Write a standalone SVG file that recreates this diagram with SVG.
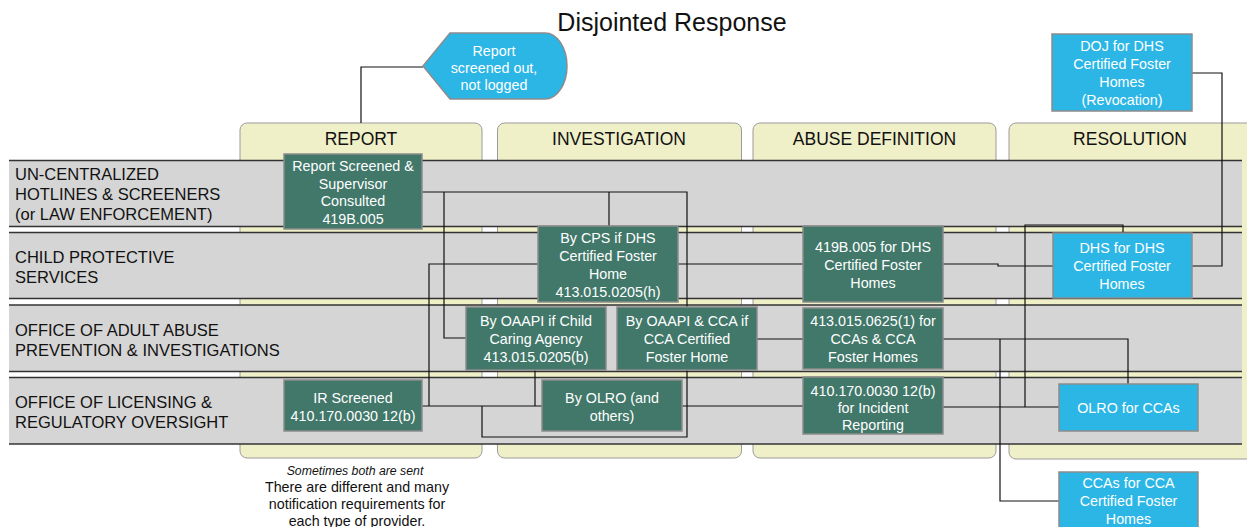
<svg xmlns="http://www.w3.org/2000/svg" width="1247" height="527" viewBox="0 0 1247 527">
<style>
text{font-family:"Liberation Sans",Arial,Helvetica,sans-serif}
.col{fill:#efefc8;stroke:#9b9b9b;stroke-width:1}
.colt{font-size:17.5px;fill:#111;text-anchor:middle}
.lane{fill:#d5d5d5}
.lb{stroke:#333;stroke-width:1.5}
.lt{font-size:16.5px;fill:#111}
.g{fill:#41786a;stroke:#8c8c8c;stroke-width:1.5}
.b{fill:#2cb6e6;stroke:#8c8c8c;stroke-width:1.5}
.nt{font-size:14.3px;fill:#fff;text-anchor:middle}
.c{fill:none;stroke:#111;stroke-width:1.2}
</style>
<rect x="0" y="0" width="1247" height="527" fill="#fff"/>
<text x="672" y="31" font-size="25" fill="#111" text-anchor="middle">Disjointed Response</text>

<g id="columns">
<rect class="col" x="240" y="123" width="242" height="335" rx="7"/>
<rect class="col" x="497.5" y="123" width="244" height="335" rx="7"/>
<rect class="col" x="753" y="123" width="243" height="335" rx="7"/>
<rect class="col" x="1009" y="123" width="250" height="336" rx="7"/>
<text class="colt" x="361" y="144.5">REPORT</text>
<text class="colt" x="619" y="145">INVESTIGATION</text>
<text class="colt" x="874.5" y="145">ABUSE DEFINITION</text>
<text class="colt" x="1130" y="145">RESOLUTION</text>
</g>

<g id="lanes">
<rect class="lane" x="9" y="160.5" width="1233" height="66"/>
<line class="lb" x1="9" y1="160.5" x2="1242" y2="160.5"/>
<line class="lb" x1="9" y1="226.5" x2="1242" y2="226.5"/>
<rect class="lane" x="9" y="232.5" width="1233" height="66"/>
<line class="lb" x1="9" y1="232.5" x2="1242" y2="232.5"/>
<line class="lb" x1="9" y1="298.5" x2="1242" y2="298.5"/>
<rect class="lane" x="9" y="305" width="1233" height="66.5"/>
<line class="lb" x1="9" y1="305" x2="1242" y2="305"/>
<line class="lb" x1="9" y1="371.5" x2="1242" y2="371.5"/>
<rect class="lane" x="9" y="377.5" width="1233" height="66.5"/>
<line class="lb" x1="9" y1="377.5" x2="1242" y2="377.5"/>
<line class="lb" x1="9" y1="444" x2="1242" y2="444"/>
<text class="lt" x="15" y="180">UN-CENTRALIZED</text>
<text class="lt" x="15" y="200">HOTLINES &amp; SCREENERS</text>
<text class="lt" x="15" y="220">(or LAW ENFORCEMENT)</text>
<text class="lt" x="15" y="262.5">CHILD PROTECTIVE</text>
<text class="lt" x="15" y="282.5">SERVICES</text>
<text class="lt" x="15" y="335.5">OFFICE OF ADULT ABUSE</text>
<text class="lt" x="15" y="355.5">PREVENTION &amp; INVESTIGATIONS</text>
<text class="lt" x="15" y="407.5">OFFICE OF LICENSING &amp;</text>
<text class="lt" x="15" y="427.5">REGULATORY OVERSIGHT</text>
</g>

<g id="connectors">
<path class="c" d="M361,123 V67 H423"/>
<path class="c" d="M422,192 H687 V307"/>
<path class="c" d="M444,192 V338 H466"/>
<path class="c" d="M609,192 V226"/>
<path class="c" d="M422,406 H542"/>
<path class="c" d="M429,406 V264 H538"/>
<path class="c" d="M535,370 V406"/>
<path class="c" d="M482,406 V437 H687 V370"/>
<path class="c" d="M678,264 H803"/>
<path class="c" d="M943,264 H998 V266 H1053"/>
<path class="c" d="M1192,73 H1222 V266 H1192"/>
<path class="c" d="M757,339 H803"/>
<path class="c" d="M682,406 H803"/>
<path class="c" d="M943,339 H1128 V384"/>
<path class="c" d="M1000,339 V501 H1059"/>
<path class="c" d="M943,407 H1059"/>
<path class="c" d="M1025,407 V225 H1123 V233"/>
</g>

<g id="n-screened-out">
<path class="b" d="M423,66 L450,33 L545,33 A22,33 0 0 1 545,99 L450,99 Z"/>
<text class="nt" x="494" y="56">Report</text>
<text class="nt" x="494" y="73">screened out,</text>
<text class="nt" x="494" y="90">not logged</text>
</g>
<g id="n-report-screened">
<rect class="g" x="284" y="154" width="138" height="75"/>
<text class="nt" x="353" y="170.5">Report Screened &amp;</text>
<text class="nt" x="353" y="188.5">Supervisor</text>
<text class="nt" x="353" y="206.3">Consulted</text>
<text class="nt" x="353" y="224">419B.005</text>
</g>
<g id="n-ir-screened">
<rect class="g" x="284" y="380" width="138" height="51"/>
<text class="nt" x="353" y="403">IR Screened</text>
<text class="nt" x="353" y="421">410.170.0030 12(b)</text>
</g>
<g id="n-cps">
<rect class="g" x="538" y="226" width="140" height="76"/>
<text class="nt" x="608" y="243">By CPS if DHS</text>
<text class="nt" x="608" y="261">Certified Foster</text>
<text class="nt" x="608" y="279">Home</text>
<text class="nt" x="608" y="296.5">413.015.0205(h)</text>
</g>
<g id="n-oaapi-child">
<rect class="g" x="466" y="307" width="140" height="63"/>
<text class="nt" x="536" y="326">By OAAPI if Child</text>
<text class="nt" x="536" y="344">Caring Agency</text>
<text class="nt" x="536" y="362">413.015.0205(b)</text>
</g>
<g id="n-oaapi-cca">
<rect class="g" x="617" y="307" width="140" height="63"/>
<text class="nt" x="687" y="326">By OAAPI &amp; CCA if</text>
<text class="nt" x="687" y="344">CCA Certified</text>
<text class="nt" x="687" y="362">Foster Home</text>
</g>
<g id="n-olro">
<rect class="g" x="542" y="380" width="140" height="51"/>
<text class="nt" x="612" y="403">By OLRO (and</text>
<text class="nt" x="612" y="420.5">others)</text>
</g>
<g id="n-419b">
<rect class="g" x="803" y="226" width="140" height="76"/>
<text class="nt" x="873" y="252">419B.005 for DHS</text>
<text class="nt" x="873" y="270">Certified Foster</text>
<text class="nt" x="873" y="287.5">Homes</text>
</g>
<g id="n-413-0625">
<rect class="g" x="803" y="308" width="140" height="61"/>
<text class="nt" x="873" y="326">413.015.0625(1) for</text>
<text class="nt" x="873" y="344">CCAs &amp; CCA</text>
<text class="nt" x="873" y="362">Foster Homes</text>
</g>
<g id="n-410-incident">
<rect class="g" x="803" y="377" width="140" height="57"/>
<text class="nt" x="873" y="395.5">410.170.0030 12(b)</text>
<text class="nt" x="873" y="412.5">for Incident</text>
<text class="nt" x="873" y="429.5">Reporting</text>
</g>
<g id="n-doj">
<rect class="b" x="1052" y="34" width="140" height="77"/>
<text class="nt" x="1122" y="51">DOJ for DHS</text>
<text class="nt" x="1122" y="69">Certified Foster</text>
<text class="nt" x="1122" y="87">Homes</text>
<text class="nt" x="1122" y="105">(Revocation)</text>
</g>
<g id="n-dhs">
<rect class="b" x="1053" y="233" width="139" height="65"/>
<text class="nt" x="1122" y="253">DHS for DHS</text>
<text class="nt" x="1122" y="271">Certified Foster</text>
<text class="nt" x="1122" y="289">Homes</text>
</g>
<g id="n-olro-ccas">
<rect class="b" x="1059" y="384" width="139" height="47"/>
<text class="nt" x="1128.5" y="413">OLRO for CCAs</text>
</g>
<g id="n-ccas">
<rect class="b" x="1059" y="472" width="139" height="62"/>
<text class="nt" x="1128.5" y="488">CCAs for CCA</text>
<text class="nt" x="1128.5" y="506">Certified Foster</text>
<text class="nt" x="1128.5" y="524">Homes</text>
</g>

<g id="note" fill="#111" text-anchor="middle">
<text x="355" y="475" font-size="12.3" font-style="italic">Sometimes both are sent</text>
<text x="357" y="492" font-size="14.3">There are different and many</text>
<text x="357" y="509" font-size="14.3">notification requirements for</text>
<text x="357" y="526" font-size="14.3">each type of provider.</text>
</g>
</svg>
